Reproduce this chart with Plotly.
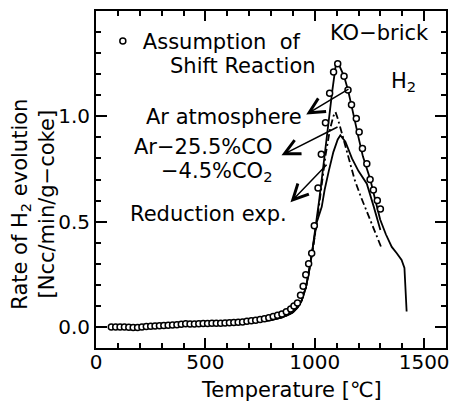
import plotly.graph_objects as go

# H2 evolution rate of KO-brick vs temperature
FONT = "DejaVu Sans"

# Calculated curve assuming the shift reaction (open circles)
shift_T = [70, 90, 110, 130, 150, 170, 190, 210, 230, 250, 270, 290, 310, 330, 350,
           370, 390, 410, 430, 450, 470, 490, 510, 530, 550, 570, 590, 610, 630, 650,
           670, 690, 710, 730, 750, 770, 790, 810, 830, 850, 870, 890, 905, 921, 935,
           947, 959, 972, 986, 998, 1015, 1030, 1049, 1068, 1086, 1105, 1134, 1152,
           1168, 1190, 1203, 1218, 1238, 1253, 1268, 1286, 1300]
shift_v = [0.0, 0.0, 0.0, 0.0, -0.002, -0.003, -0.003, 0.0, 0.002, 0.003, 0.005, 0.006,
           0.007, 0.008, 0.009, 0.010, 0.013, 0.015, 0.014, 0.014, 0.015, 0.016, 0.016,
           0.017, 0.017, 0.018, 0.019, 0.020, 0.021, 0.022, 0.024, 0.027, 0.029, 0.032,
           0.035, 0.039, 0.044, 0.049, 0.055, 0.062, 0.072, 0.085, 0.100, 0.114, 0.150,
           0.193, 0.248, 0.300, 0.350, 0.480, 0.660, 0.820, 0.970, 1.110, 1.210, 1.250,
           1.190, 1.125, 1.055, 0.990, 0.926, 0.847, 0.775, 0.700, 0.650, 0.600, 0.560]

# Ar atmosphere (solid)
ar_T = [70, 150, 250, 400, 500, 600, 700, 750, 800, 850, 880, 900, 920, 940, 960, 975,
        990, 1005, 1020, 1040, 1060, 1080, 1097, 1115, 1134, 1152, 1166, 1180, 1200,
        1220, 1240, 1254, 1275, 1299, 1325, 1352, 1375, 1397, 1410, 1415, 1420]
ar_v = [0.0, -0.002, 0.002, 0.010, 0.013, 0.016, 0.022, 0.027, 0.033, 0.045, 0.058,
        0.070, 0.090, 0.125, 0.190, 0.270, 0.370, 0.480, 0.600, 0.770, 0.950, 1.120,
        1.250, 1.235, 1.190, 1.125, 1.060, 0.990, 0.900, 0.810, 0.745, 0.700, 0.610,
        0.510, 0.440, 0.380, 0.350, 0.318, 0.280, 0.180, 0.073]

# Ar-25.5%CO-4.5%CO2 (dash-dot)
co_T = [70, 150, 250, 400, 500, 600, 700, 750, 800, 850, 880, 900, 920, 940, 960, 975,
        990, 1010, 1030, 1050, 1070, 1085, 1095, 1105, 1124, 1150, 1182, 1210, 1240,
        1270, 1306]
co_v = [0.0, -0.002, 0.002, 0.010, 0.013, 0.016, 0.022, 0.027, 0.033, 0.045, 0.058,
        0.070, 0.090, 0.125, 0.190, 0.270, 0.360, 0.500, 0.660, 0.820, 0.940, 1.000,
        1.020, 0.990, 0.920, 0.820, 0.700, 0.620, 0.540, 0.460, 0.373]

# Reduction experiment (solid)
red_T = [70, 150, 250, 400, 500, 600, 700, 750, 800, 850, 880, 900, 920, 940, 960, 975,
         990, 1010, 1032, 1045, 1064, 1085, 1105, 1117, 1140, 1170, 1200, 1238, 1270,
         1300]
red_v = [0.0, -0.002, 0.002, 0.010, 0.013, 0.016, 0.022, 0.027, 0.033, 0.045, 0.058,
         0.070, 0.090, 0.125, 0.190, 0.270, 0.370, 0.500, 0.570, 0.650, 0.740, 0.830,
         0.890, 0.910, 0.880, 0.800, 0.740, 0.680, 0.570, 0.460]

x_ticks = [0, 500, 1000, 1500]
y_ticks = [0.0, 0.5, 1.0]

fig = go.Figure()
line_style = dict(color="black", width=1.8)
fig.add_trace(go.Scatter(x=red_T, y=red_v, mode="lines", line=line_style,
                         showlegend=False))
fig.add_trace(go.Scatter(x=co_T, y=co_v, mode="lines",
                         line=dict(color="black", width=1.8, dash="7px,3px,2px,3px"),
                         showlegend=False))
fig.add_trace(go.Scatter(x=ar_T, y=ar_v, mode="lines", line=line_style,
                         showlegend=False))
fig.add_trace(go.Scatter(x=shift_T, y=shift_v, mode="markers",
                         name="Assumption\u00a0 of",
                         marker=dict(symbol="circle", size=6, color="white",
                                     line=dict(color="black", width=1.5))))

def label(text, x, y, xanchor="center", size=21):
    fig.add_annotation(x=x, y=y, xref="x", yref="y", text=text, showarrow=False,
                       xanchor=xanchor, yanchor="middle",
                       font=dict(family=FONT, size=size, color="black"))

def arrow(x_head, y_head, x_tail, y_tail):
    fig.add_annotation(x=x_head, y=y_head, ax=x_tail, ay=y_tail, xref="x", yref="y",
                       axref="x", ayref="y", text="", showarrow=True, arrowhead=5,
                       arrowsize=2, arrowwidth=1.5, arrowcolor="black",
                       standoff=0, startstandoff=0)

label("Shift Reaction", 327, 1.240, xanchor="left")
label("KO\u2212brick", 1296, 1.396)
label("H<sub>2</sub>", 1405, 1.165)
label("Ar atmosphere", 952, 0.997, xanchor="right")
label("Ar\u221225.5%CO", 820, 0.854, xanchor="right")
label("\u22124.5%CO<sub>2</sub>", 820, 0.735, xanchor="right")
label("Reduction exp.", 145, 0.536, xanchor="left")

arrow(961, 1.009, 1161, 1.133)
arrow(848, 0.815, 1111, 0.953)
arrow(889, 0.592, 1061, 0.777)

fig.add_annotation(xref="paper", yref="paper", x=-0.181, y=0.427,
                   xanchor="center", yanchor="middle",
                   text="Rate of H<sub>2</sub> evolution<br>[Ncc/min/g\u2212coke]",
                   textangle=-90, showarrow=False, align="center",
                   font=dict(family=FONT, size=21, color="black"))
fig.add_annotation(xref="paper", yref="paper", x=0.558, y=-0.125,
                   xanchor="center", yanchor="middle",
                   text="Temperature [\u2103]", showarrow=False,
                   font=dict(family=FONT, size=21, color="black"))

axis_common = dict(showline=True, linewidth=2, linecolor="black", mirror="ticks",
                   ticks="inside", tickwidth=1.5, tickcolor="black",
                   showgrid=False, zeroline=False,
                   tickfont=dict(family=FONT, size=20, color="black"))
fig.update_xaxes(range=[0, 1600], tickvals=x_ticks, ticklen=10, ticklabelstandoff=-5,
                 minor=dict(dtick=100, tick0=0, ticklen=5, ticks="inside",
                            tickwidth=1.5, tickcolor="black"),
                 **axis_common)
fig.update_yaxes(range=[-0.1, 1.5], tickvals=y_ticks, tickformat=".1f", ticklen=11,
                 minor=dict(dtick=0.1, tick0=0, ticklen=5, ticks="inside",
                            tickwidth=1.5, tickcolor="black"),
                 **axis_common)

fig.update_layout(width=454, height=406, autosize=False,
                  margin=dict(l=96, r=5, t=11, b=58),
                  paper_bgcolor="white", plot_bgcolor="white",
                  showlegend=True,
                  legend=dict(x=0.0195, y=0.971, xanchor="left", yanchor="top",
                              bgcolor="rgba(0,0,0,0)", itemwidth=30,
                              font=dict(family=FONT, size=21, color="black")))

fig.write_html("out.html")
